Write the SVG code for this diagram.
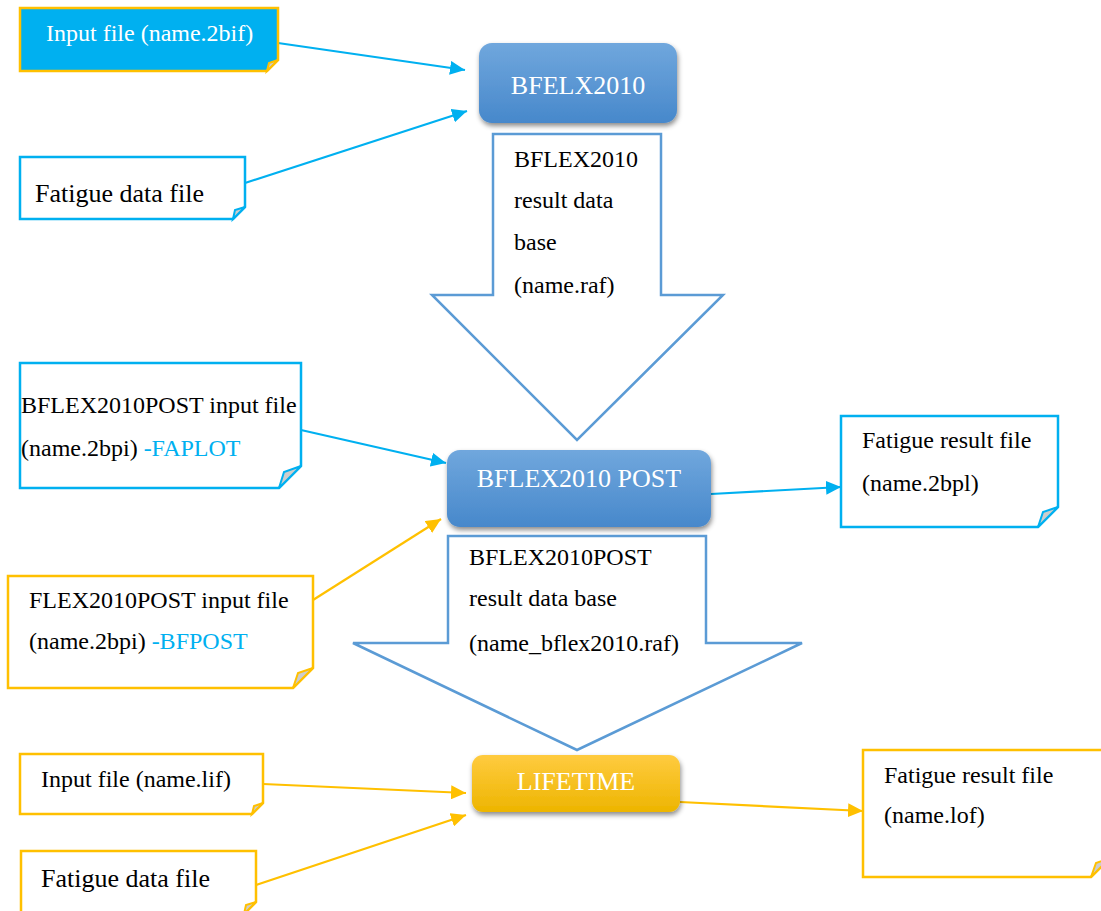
<svg xmlns="http://www.w3.org/2000/svg" width="1101" height="911" viewBox="0 0 1101 911">
<style>
text{font-family:"Liberation Serif","Times New Roman",serif;fill:#000}
.t{font-size:24px}
.big{font-size:26px}
.wt{fill:#fff}
.cy{fill:#00B0F0}
.bc{fill:#fff;stroke:#00B0F0;stroke-width:2.5}
.bg{fill:#fff;stroke:#FFC000;stroke-width:2.5}
.fold{fill:#CDCDCD;stroke-width:2}
.fc{stroke:#00B0F0}
.fg{stroke:#FFC000}
.lc{stroke:#00B0F0;stroke-width:2.2;fill:none}
.lg{stroke:#FFC000;stroke-width:2.2;fill:none}
.blk{fill:#fff;stroke:#5B9BD5;stroke-width:2.5}
</style>
<defs>
<linearGradient id="gb" x1="0" y1="0" x2="0" y2="1"><stop offset="0" stop-color="#70A7DD"/><stop offset="1" stop-color="#4788CB"/></linearGradient>
<linearGradient id="gy" x1="0" y1="0" x2="0" y2="1"><stop offset="0" stop-color="#FFCB40"/><stop offset="1" stop-color="#EDB500"/></linearGradient>
<filter id="sh" x="-10%" y="-20%" width="125%" height="150%"><feDropShadow dx="1" dy="3" stdDeviation="2.5" flood-color="#000" flood-opacity="0.45"/></filter>
<marker id="ac" markerWidth="15" markerHeight="14" refX="15" refY="7" orient="auto" markerUnits="userSpaceOnUse"><path d="M0,0 L15,7 L0,14 Z" fill="#00B0F0"/></marker>
<marker id="ag" markerWidth="15" markerHeight="14" refX="15" refY="7" orient="auto" markerUnits="userSpaceOnUse"><path d="M0,0 L15,7 L0,14 Z" fill="#FFC000"/></marker>
</defs>

<g id="connectors">
<line class="lc" x1="278" y1="43" x2="465" y2="70" marker-end="url(#ac)"/>
<line class="lc" x1="245" y1="183" x2="467" y2="111" marker-end="url(#ac)"/>
<line class="lc" x1="301" y1="430" x2="446" y2="463" marker-end="url(#ac)"/>
<line class="lg" x1="313" y1="600" x2="441" y2="519" marker-end="url(#ag)"/>
<line class="lc" x1="711" y1="494" x2="841" y2="487" marker-end="url(#ac)"/>
<line class="lg" x1="263" y1="784" x2="466" y2="793" marker-end="url(#ag)"/>
<line class="lg" x1="256" y1="885" x2="466" y2="815" marker-end="url(#ag)"/>
<line class="lg" x1="680" y1="802" x2="863" y2="811" marker-end="url(#ag)"/>
</g>

<g id="arrow1">
<path class="blk" d="M493,134 H661 V295 H723 L577,440 L432,295 H493 Z"/>
<text class="t" x="514" y="167">BFLEX2010</text>
<text class="t" x="514" y="208">result data</text>
<text class="t" x="514" y="250">base</text>
<text class="t" x="514" y="293">(name.raf)</text>
</g>

<g id="arrow2">
<path class="blk" d="M448,536 H706 V643 H802 L577,750 L353,643 H448 Z"/>
<text class="t" x="469" y="565">BFLEX2010POST</text>
<text class="t" x="469" y="606">result data base</text>
<text class="t" x="469" y="651">(name_bflex2010.raf)</text>
</g>

<g id="in2bif">
<path d="M20,8 H278 V60 L267,71 H20 Z" fill="#00B0F0" stroke="#FFC000" stroke-width="2.5"/>
<path class="fold fg" d="M267,71 L269,63 L278,60 Z"/>
<text class="t wt" x="46" y="41">Input file (name.2bif)</text>
</g>

<g id="fatigue1">
<path class="bc" d="M20,157 H245 V207 L233,219 H20 Z"/>
<path class="fold fc" d="M233,219 L235,210 L245,207 Z"/>
<text class="big" x="35" y="202">Fatigue data file</text>
</g>

<g id="bfelx">
<rect x="479" y="43" width="198" height="80" rx="13" fill="url(#gb)" filter="url(#sh)"/>
<text class="big wt" x="578" y="94" text-anchor="middle">BFELX2010</text>
</g>

<g id="postin">
<path class="bc" d="M20,363 H301 V466 L279,488 H20 Z"/>
<path class="fold fc" d="M279,488 L284,472 L301,466 Z"/>
<text class="t" x="21" y="413">BFLEX2010POST input file</text>
<text class="t" x="21" y="456">(name.2bpi) <tspan class="cy">-FAPLOT</tspan></text>
</g>

<g id="post">
<rect x="447" y="450" width="264" height="77" rx="13" fill="url(#gb)" filter="url(#sh)"/>
<text class="big wt" x="579" y="487" text-anchor="middle">BFLEX2010 POST</text>
</g>

<g id="res2bpl">
<path class="bc" d="M841,416 H1058 V507 L1038,527 H841 Z"/>
<path class="fold fc" d="M1038,527 L1043,512 L1058,507 Z"/>
<text class="t" x="862" y="448">Fatigue result file</text>
<text class="t" x="862" y="491">(name.2bpl)</text>
</g>

<g id="flexin">
<path class="bg" d="M8,576 H313 V668 L293,688 H8 Z"/>
<path class="fold fg" d="M293,688 L298,673 L313,668 Z"/>
<text class="t" x="29" y="608">FLEX2010POST input file</text>
<text class="t" x="29" y="649">(name.2bpi) <tspan class="cy">-BFPOST</tspan></text>
</g>

<g id="lifetime">
<rect x="472" y="755" width="208" height="57" rx="11" fill="url(#gy)" filter="url(#sh)"/>
<text class="big wt" x="576" y="790" text-anchor="middle">LIFETIME</text>
</g>

<g id="inlif">
<path class="bg" d="M20,754 H263 V803 L252,814 H20 Z"/>
<path class="fold fg" d="M252,814 L254,806 L263,803 Z"/>
<text class="t" x="41" y="787">Input file (name.lif)</text>
</g>

<g id="fatigue2">
<path class="bg" d="M21,851 H256 V902 L244,914 H21 Z"/>
<path class="fold fg" d="M244,914 L246,905 L256,902 Z"/>
<text class="big" x="41" y="887">Fatigue data file</text>
</g>

<g id="reslof">
<path class="bg" d="M863,750 H1110 V858 L1091,877 H863 Z"/>
<path class="fold fg" d="M1091,877 L1096,863 L1110,858 Z"/>
<text class="t" x="884" y="783">Fatigue result file</text>
<text class="t" x="884" y="823">(name.lof)</text>
</g>
</svg>
